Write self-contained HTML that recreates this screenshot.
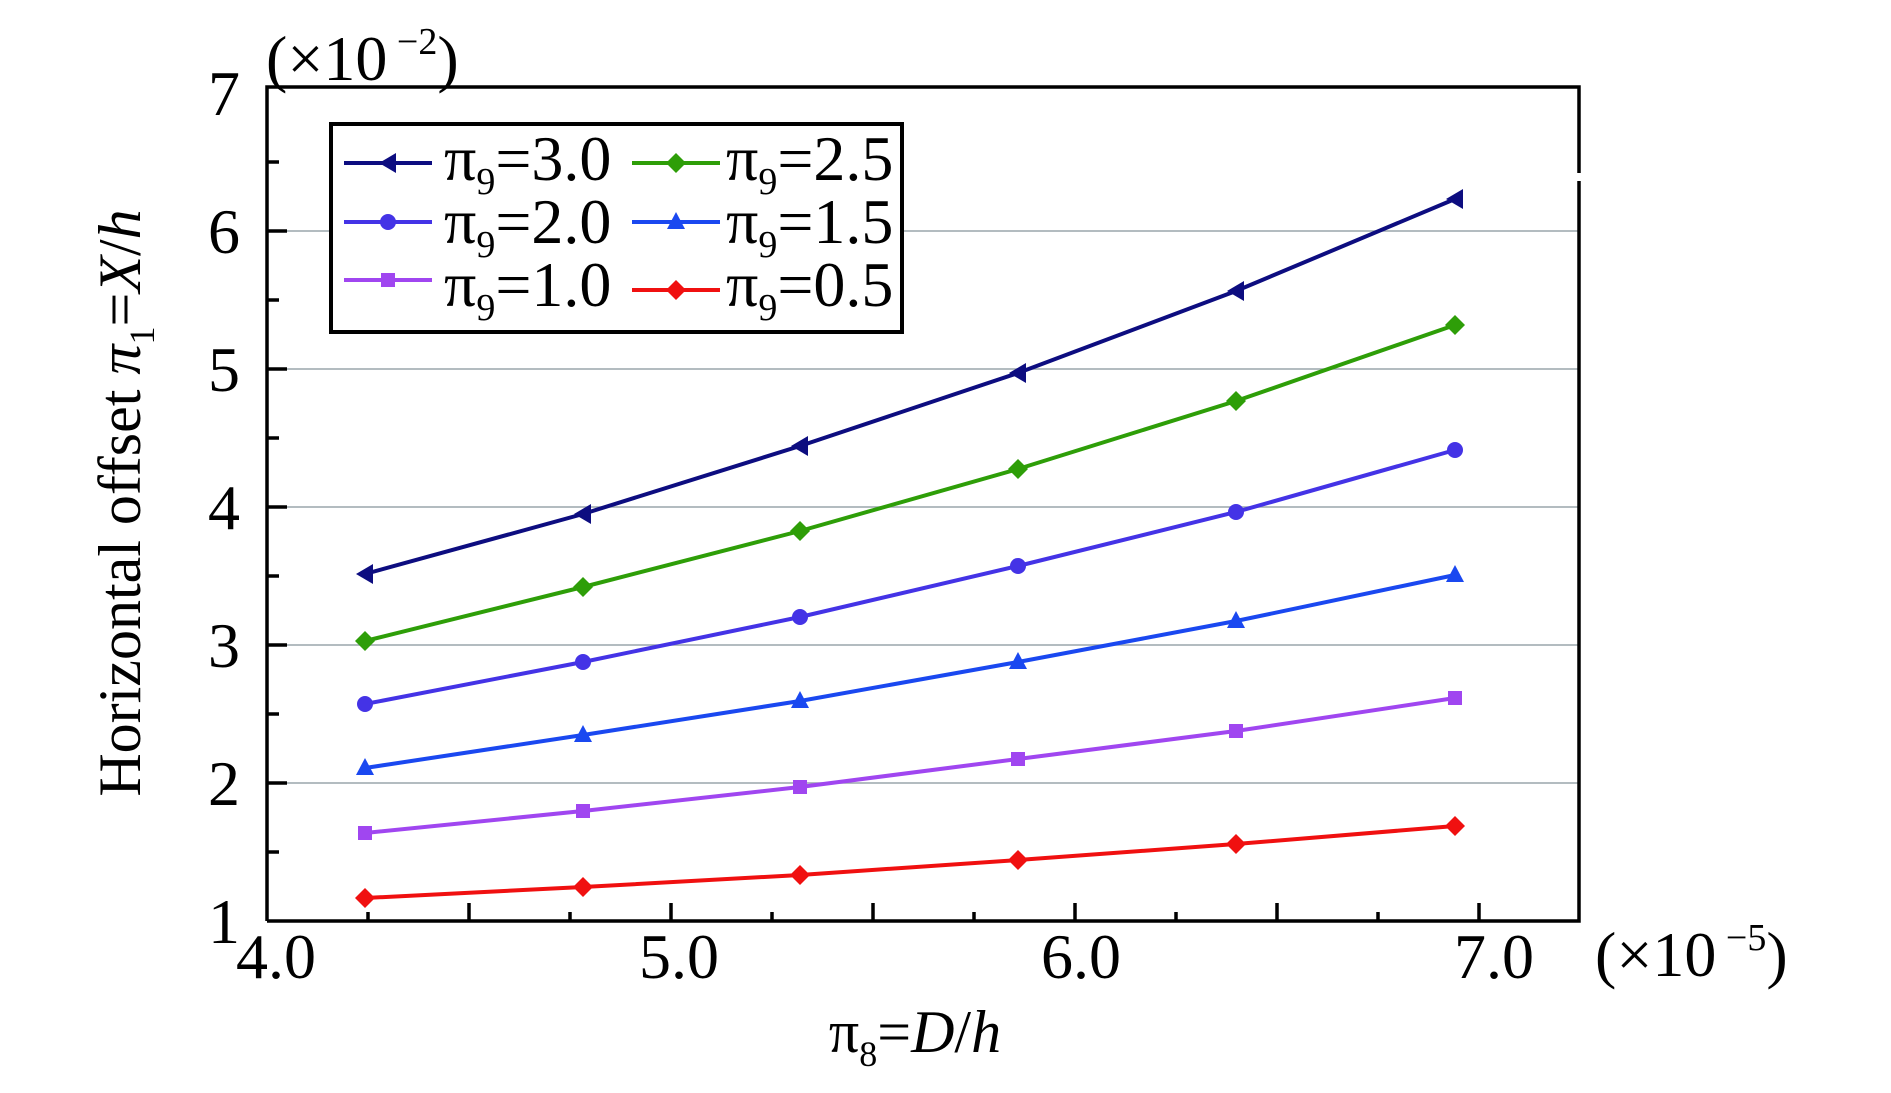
<!DOCTYPE html>
<html><head><meta charset="utf-8"><style>
html,body{margin:0;padding:0;background:#fff;}
svg{display:block;}
text{font-family:"Liberation Serif","Times New Roman",Times,serif;}
</style></head><body>
<svg width="1891" height="1093" viewBox="0 0 1891 1093" xmlns="http://www.w3.org/2000/svg" font-family="Liberation Serif, Times New Roman, serif">
<defs>
<path id="tri" d="M-9,0 L8,-10 L8,10 Z"/>
<path id="dia" d="M0,-10 L10,0 L0,10 L-10,0 Z"/>
<path id="tru" d="M0,-10 L9,7 L-9,7 Z"/>
</defs>
<!-- grid -->
<g stroke="#9aa6ac" stroke-width="1.5">
<line x1="267" x2="1579" y1="783" y2="783"/>
<line x1="267" x2="1579" y1="645" y2="645"/>
<line x1="267" x2="1579" y1="507" y2="507"/>
<line x1="267" x2="1579" y1="369" y2="369"/>
<line x1="267" x2="1579" y1="231" y2="231"/>
</g>
<!-- axes -->
<g stroke="#000" stroke-width="3.5" fill="none">
<path d="M267,921 L267,87 L1579,87 L1579,173 M1579,181 L1579,921 L267,921"/>
<g>
<line x1="267" x2="287" y1="783" y2="783"/><line x1="267" x2="287" y1="645" y2="645"/>
<line x1="267" x2="287" y1="507" y2="507"/><line x1="267" x2="287" y1="369" y2="369"/>
<line x1="267" x2="287" y1="231" y2="231"/>
<line x1="267" x2="279" y1="852" y2="852"/><line x1="267" x2="279" y1="714" y2="714"/>
<line x1="267" x2="279" y1="576" y2="576"/><line x1="267" x2="279" y1="438" y2="438"/>
<line x1="267" x2="279" y1="300" y2="300"/><line x1="267" x2="279" y1="162" y2="162"/>
<line x1="671" x2="671" y1="921" y2="903"/><line x1="1075" x2="1075" y1="921" y2="903"/>
<line x1="1479" x2="1479" y1="921" y2="903"/>
<line x1="469" x2="469" y1="921" y2="903"/><line x1="873" x2="873" y1="921" y2="903"/>
<line x1="1277" x2="1277" y1="921" y2="903"/>
<line x1="368" x2="368" y1="921" y2="912"/><line x1="570" x2="570" y1="921" y2="912"/>
<line x1="772" x2="772" y1="921" y2="912"/><line x1="974" x2="974" y1="921" y2="912"/>
<line x1="1176" x2="1176" y1="921" y2="912"/><line x1="1378" x2="1378" y1="921" y2="912"/>
</g>
</g>
<!-- tick labels -->
<g font-size="64" text-anchor="end">
<text x="240" y="943">1</text><text x="240" y="805">2</text><text x="240" y="667">3</text>
<text x="240" y="529">4</text><text x="240" y="391">5</text><text x="240" y="253">6</text>
<text x="240" y="115">7</text>
</g>
<g font-size="64" text-anchor="middle">
<text x="276" y="978">4.0</text><text x="679" y="978">5.0</text>
<text x="1081" y="978">6.0</text><text x="1494" y="978">7.0</text>
</g>
<text x="1595" y="976" font-size="64">(×10<tspan font-size="38" dy="-26"> −5</tspan><tspan dy="26">)</tspan></text>
<text x="266" y="80" font-size="64">(×10<tspan font-size="38" dy="-26"> −2</tspan><tspan dy="26">)</tspan></text>
<text x="915" y="1052" font-size="60" text-anchor="middle">π<tspan font-size="36" dy="14">8</tspan><tspan dy="-14">=</tspan><tspan font-style="italic">D</tspan>/<tspan font-style="italic">h</tspan></text>
<text transform="translate(140,503) rotate(-90)" font-size="60" text-anchor="middle">Horizontal offset <tspan font-style="italic">π</tspan><tspan font-size="36" dy="14">1</tspan><tspan dy="-14">=</tspan><tspan font-style="italic">X</tspan>/<tspan font-style="italic">h</tspan></text>
<!-- series -->
<g fill="none" stroke-width="4">
<polyline stroke="#0d0d80" points="365,574 583,514 800,446 1018,373 1236,291 1455,199"/>
<polyline stroke="#2e9e08" points="365,641 583,587 800,531 1018,469 1236,401 1455,325"/>
<polyline stroke="#4433e6" points="365,704 583,662 800,617 1018,566 1236,512 1455,450"/>
<polyline stroke="#1a48f0" points="365,768 583,735 800,701 1018,662 1236,621 1455,575"/>
<polyline stroke="#a046f0" points="365,833 583,811 800,787 1018,759 1236,731 1455,698"/>
<polyline stroke="#f01010" points="365,898 583,887 800,875 1018,860 1236,844 1455,826"/>
</g>
<g fill="#0d0d80"><use href="#tri" x="365" y="574"/><use href="#tri" x="583" y="514"/><use href="#tri" x="800" y="446"/><use href="#tri" x="1018" y="373"/><use href="#tri" x="1236" y="291"/><use href="#tri" x="1455" y="199"/></g>
<g fill="#2e9e08"><use href="#dia" x="365" y="641"/><use href="#dia" x="583" y="587"/><use href="#dia" x="800" y="531"/><use href="#dia" x="1018" y="469"/><use href="#dia" x="1236" y="401"/><use href="#dia" x="1455" y="325"/></g>
<g fill="#4433e6"><circle r="8" cx="365" cy="704"/><circle r="8" cx="583" cy="662"/><circle r="8" cx="800" cy="617"/><circle r="8" cx="1018" cy="566"/><circle r="8" cx="1236" cy="512"/><circle r="8" cx="1455" cy="450"/></g>
<g fill="#1a48f0"><use href="#tru" x="365" y="768"/><use href="#tru" x="583" y="735"/><use href="#tru" x="800" y="701"/><use href="#tru" x="1018" y="662"/><use href="#tru" x="1236" y="621"/><use href="#tru" x="1455" y="575"/></g>
<g fill="#a046f0"><rect x="358" y="826" width="14" height="14"/><rect x="576" y="804" width="14" height="14"/><rect x="793" y="780" width="14" height="14"/><rect x="1011" y="752" width="14" height="14"/><rect x="1229" y="724" width="14" height="14"/><rect x="1448" y="691" width="14" height="14"/></g>
<g fill="#f01010"><use href="#dia" x="365" y="898"/><use href="#dia" x="583" y="887"/><use href="#dia" x="800" y="875"/><use href="#dia" x="1018" y="860"/><use href="#dia" x="1236" y="844"/><use href="#dia" x="1455" y="826"/></g>
<!-- legend -->
<rect x="331" y="124" width="571" height="208" fill="#fff" stroke="#000" stroke-width="4"/>
<g stroke-width="4">
<line x1="344" x2="432" y1="163" y2="163" stroke="#0d0d80"/><use href="#tri" x="388" y="163" fill="#0d0d80"/>
<line x1="632" x2="720" y1="163" y2="163" stroke="#2e9e08"/><use href="#dia" x="676" y="163" fill="#2e9e08"/>
<line x1="344" x2="432" y1="222" y2="222" stroke="#4433e6"/><circle cx="388" cy="222" r="8" fill="#4433e6"/>
<line x1="632" x2="720" y1="222" y2="222" stroke="#1a48f0"/><use href="#tru" x="676" y="222" fill="#1a48f0"/>
<line x1="344" x2="432" y1="280" y2="280" stroke="#a046f0"/><rect x="381" y="273" width="14" height="14" fill="#a046f0"/>
<line x1="632" x2="720" y1="290" y2="290" stroke="#f01010"/><use href="#dia" x="676" y="290" fill="#f01010"/>
</g>
<g font-size="64">
<text x="444" y="180">π<tspan font-size="38" dy="14">9</tspan><tspan dy="-14">=3.0</tspan></text>
<text x="726" y="180">π<tspan font-size="38" dy="14">9</tspan><tspan dy="-14">=2.5</tspan></text>
<text x="444" y="243">π<tspan font-size="38" dy="14">9</tspan><tspan dy="-14">=2.0</tspan></text>
<text x="726" y="243">π<tspan font-size="38" dy="14">9</tspan><tspan dy="-14">=1.5</tspan></text>
<text x="444" y="306">π<tspan font-size="38" dy="14">9</tspan><tspan dy="-14">=1.0</tspan></text>
<text x="726" y="306">π<tspan font-size="38" dy="14">9</tspan><tspan dy="-14">=0.5</tspan></text>
</g>
</svg>
</body></html>
